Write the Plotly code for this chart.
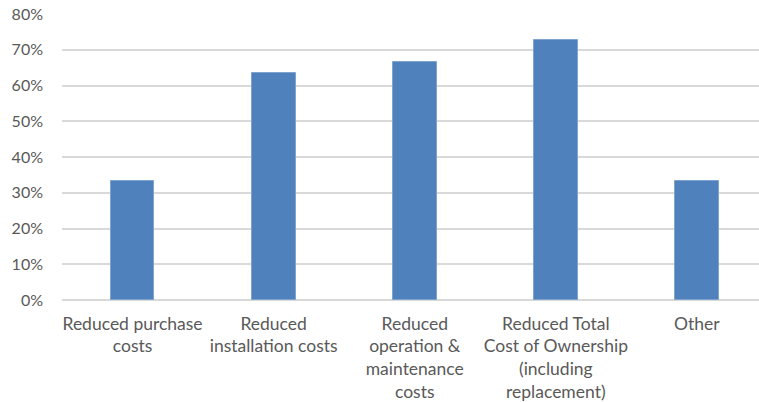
import plotly.graph_objects as go

categories = [
    "Reduced purchase<br>costs",
    "Reduced<br>installation costs",
    "Reduced<br>operation &<br>maintenance<br>costs",
    "Reduced Total<br>Cost of Ownership<br>(including<br>replacement)",
    "Other",
]
shares = [11 / 33, 21 / 33, 22 / 33, 24 / 33, 11 / 33]
y_ticks = [0, 0.1, 0.2, 0.3, 0.4, 0.5, 0.6, 0.7, 0.8]

font_family = "Lato, 'Open Sans', sans-serif"
text_color = "#595959"
grid_color = "#d9d9d9"

fig = go.Figure(
    go.Bar(
        x=list(range(len(categories))),
        y=shares,
        width=0.31,
        marker=dict(color="#4f81bd", line=dict(color="#7fa3cf", width=1)),
    )
)

fig.update_layout(
    width=759,
    height=402,
    margin=dict(l=62, r=0, t=14, b=102),
    paper_bgcolor="white",
    plot_bgcolor="white",
    showlegend=False,
    font=dict(family=font_family, size=15, color=text_color),
    bargap=0,
)

fig.update_xaxes(
    range=[-0.5, 4.44],
    tickmode="array",
    tickvals=list(range(len(categories))),
    ticktext=categories,
    tickangle=0,
    showgrid=False,
    showline=False,
    zeroline=False,
    ticks="",
    ticklabelstandoff=11,
    tickfont=dict(family=font_family, size=17.5, color=text_color),
)

fig.update_yaxes(
    range=[0, 0.8],
    tickmode="array",
    tickvals=y_ticks,
    tickformat=".0%",
    showgrid=True,
    gridcolor=grid_color,
    gridwidth=1.5,
    zeroline=True,
    zerolinecolor=grid_color,
    zerolinewidth=1.5,
    showline=False,
    ticks="",
    ticklabelstandoff=18,
    tickfont=dict(family=font_family, size=16, color=text_color),
)

fig.write_html("out.html")
